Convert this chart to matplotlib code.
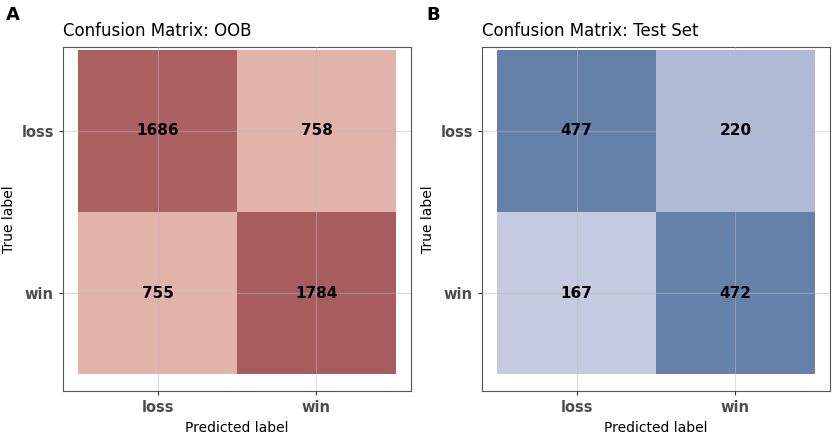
import matplotlib
matplotlib.use("Agg")
import matplotlib.pyplot as plt
from matplotlib.patches import Rectangle

labels = ["loss", "win"]
oob = [[1686, 758], [755, 1784]]   # rows: true loss, win; cols: pred loss, win
test = [[477, 220], [167, 472]]
oob_colors = [["#ab6062", "#e2b3a9"], ["#e2b3a9", "#a75c5e"]]
test_colors = [["#6380a9", "#b1bad5"], ["#c4cadf", "#6681aa"]]

fig = plt.figure(figsize=(8.39, 4.37), dpi=100)
W, H = 839, 437

def panel(left, vals, cols, title, tag, tagx):
    ax = fig.add_axes([left / W, (H - 391) / H, 348 / W, 344 / H])
    for i in range(2):
        for j in range(2):
            y = 2 - i
            ax.add_patch(Rectangle((j + 0.5, y - 0.5), 1, 1, color=cols[i][j], zorder=1, lw=0))
            ax.text(j + 1, y, str(vals[i][j]), ha="center", va="center",
                    fontsize=11, fontweight="bold", zorder=3)
    ax.set_xlim(0.405, 2.595)
    ax.set_ylim(0.396, 2.518)
    ax.set_xticks([1, 2]); ax.set_xticklabels(labels)
    ax.set_yticks([2, 1]); ax.set_yticklabels(labels)
    ax.grid(True, color="#bbbbbb", lw=0.8, alpha=0.5, zorder=2)
    ax.set_axisbelow(False)
    for s in ax.spines.values():
        s.set_color("#555555"); s.set_linewidth(0.8)
    ax.tick_params(length=3, color="#333333", labelsize=10.5, labelcolor="#4d4d4d")
    for t in ax.get_xticklabels() + ax.get_yticklabels():
        t.set_fontweight("bold")
    ax.set_xlabel("Predicted label", fontsize=10)
    ax.set_ylabel("True label", fontsize=10)
    ax.set_title(title, loc="left", fontsize=12, pad=8)
    fig.text(tagx / W, 1 - 15 / H, tag, fontsize=13, fontweight="bold", va="center")
    return ax

panel(63, oob, oob_colors, "Confusion Matrix: OOB", "A", 6)
panel(482, test, test_colors, "Confusion Matrix: Test Set", "B", 426)
fig.savefig("out.png", dpi=100)
